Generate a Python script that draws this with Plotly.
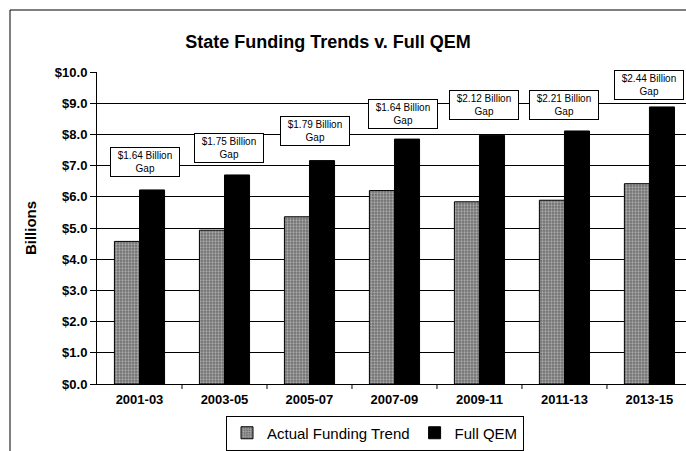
import plotly.graph_objects as go

categories = ["2001-03", "2003-05", "2005-07", "2007-09", "2009-11", "2011-13", "2013-15"]
actual = [4.57, 4.93, 5.36, 6.20, 5.84, 5.89, 6.42]
full_qem = [6.22, 6.70, 7.16, 7.85, 7.97, 8.11, 8.88]
gap_labels = ["$1.64 Billion<br>Gap", "$1.75 Billion<br>Gap", "$1.79 Billion<br>Gap",
              "$1.64 Billion<br>Gap", "$2.12 Billion<br>Gap", "$2.21 Billion<br>Gap",
              "$2.44 Billion<br>Gap"]
gap_x_offset = [0.07, 0.05, 0.06, 0.10, 0.05, 0.0, 0.0]
gap_y = [7.12, 7.58, 8.12, 8.65, 8.93, 8.93, 9.57]
tick_vals = [0, 1, 2, 3, 4, 5, 6, 7, 8, 9, 10]

W, H = 686, 451
L, R, T, B = 97, 0, 72, 67
pw, ph = W - L - R, H - T - B
FONT = "Arial, Liberation Sans"

fig = go.Figure()
fig.add_trace(go.Bar(
    x=list(range(len(categories))), y=actual, name="Actual Funding Trend",
    marker=dict(color="#8c8c8c", line=dict(color="black", width=1),
                pattern=dict(shape=".", bgcolor="#6e6e6e", fgcolor="#e6e6e6",
                             size=3, solidity=0.45)),
))
fig.add_trace(go.Bar(
    x=list(range(len(categories))), y=full_qem, name="Full QEM",
    marker=dict(color="black", line=dict(color="black", width=1)),
))

for i, (lab, dx, gy) in enumerate(zip(gap_labels, gap_x_offset, gap_y)):
    fig.add_annotation(x=i + dx, y=gy, xref="x", yref="y", text=lab, showarrow=False,
                       font=dict(family=FONT, size=10, color="black"),
                       bgcolor="white", bordercolor="black", borderwidth=1, borderpad=2,
                       width=64, align="center")


def px2paper_x(px):
    return (px - L) / pw


def px2paper_y(py):
    return (H - B - py) / ph


# outer chart border
fig.add_shape(type="line", xref="paper", yref="paper",
              x0=px2paper_x(10), x1=px2paper_x(10), y0=px2paper_y(10), y1=px2paper_y(451),
              line=dict(color="black", width=1))
fig.add_shape(type="line", xref="paper", yref="paper",
              x0=px2paper_x(10), x1=px2paper_x(686), y0=px2paper_y(10), y1=px2paper_y(10),
              line=dict(color="black", width=1))

# category boundary tick marks on x axis
for b in [0.5, 1.5, 2.5, 3.5, 4.5, 5.5]:
    fig.add_shape(type="line", xref="x", yref="paper", x0=b, x1=b, y0=0, y1=-5 / ph,
                  line=dict(color="black", width=1))

fig.update_layout(
    width=W, height=H,
    margin=dict(l=L, r=R, t=T, b=B),
    paper_bgcolor="white", plot_bgcolor="white",
    barmode="group", bargap=0.41, bargroupgap=0,
    font=dict(family=FONT, color="black"),
    title=dict(text="<b>State Funding Trends v. Full QEM</b>", x=328 / W, xanchor="center",
               y=1 - 42 / H, yanchor="middle", font=dict(size=18, color="black")),
    showlegend=True,
    legend=dict(orientation="h", x=px2paper_x(375), xanchor="center",
                y=px2paper_y(433), yanchor="middle",
                bordercolor="black", borderwidth=1, bgcolor="white",
                font=dict(size=15, color="black"), itemwidth=30, traceorder="normal"),
    xaxis=dict(tickmode="array", tickvals=list(range(len(categories))),
               ticktext=[f"<b>{c}</b>" for c in categories],
               range=[-0.5, 6.43], showline=True, linecolor="black", linewidth=1,
               ticks="", showgrid=False, zeroline=False,
               tickfont=dict(size=13, family=FONT), ticklabelstandoff=3),
    yaxis=dict(range=[0, 10], tickmode="array", tickvals=tick_vals,
               ticktext=[f"<b>${v:.1f}</b>" for v in tick_vals],
               showline=True, linecolor="black", linewidth=1, ticks="outside", ticklen=6,
               tickcolor="black", showgrid=True, gridcolor="black", gridwidth=1,
               zeroline=False, tickfont=dict(size=13, family=FONT),
               title=dict(text="<b>Billions</b>", font=dict(size=15), standoff=14)),
)

fig.write_html("out.html")
